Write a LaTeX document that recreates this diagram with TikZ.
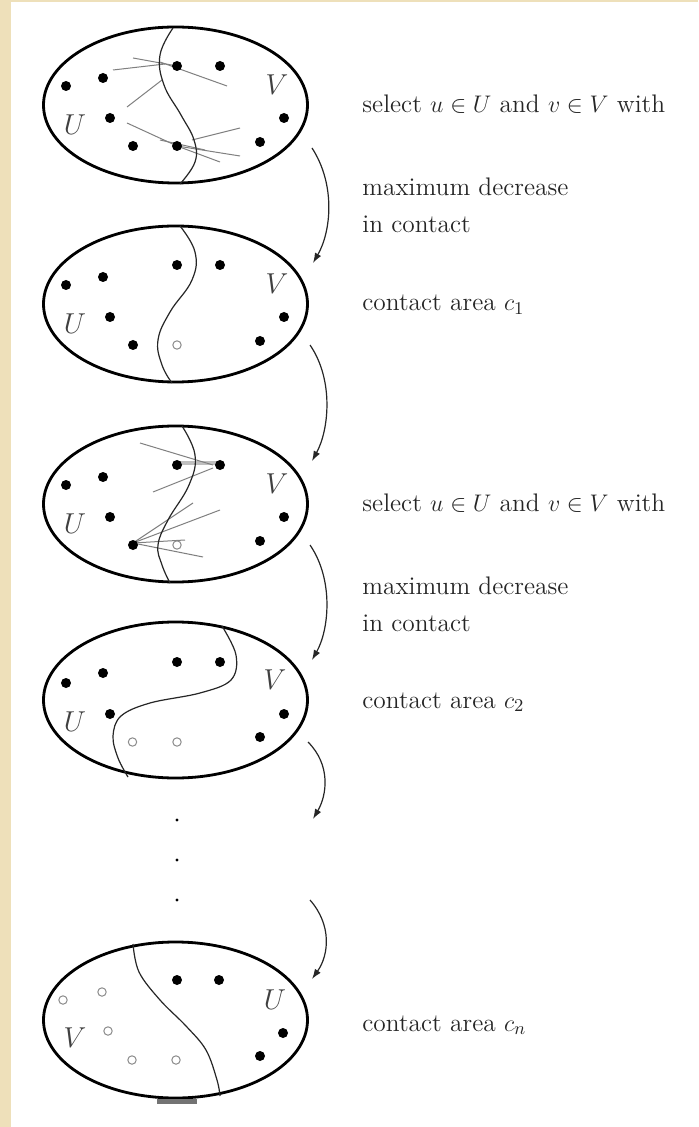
\documentclass[tikz,border=0pt]{standalone}
\usetikzlibrary{arrows.meta,shapes.geometric}
\definecolor{parch}{RGB}{238,224,186}
\begin{document}
\begin{tikzpicture}[x=0.5pt,y=-0.5pt,
  oval/.style={draw, ellipse, line width=1.4pt, minimum width=132pt, minimum height=78pt, inner sep=0pt},
  bdot/.style={fill=black, circle, inner sep=0pt, minimum size=5pt},
  hdot/.style={draw=black!45, circle, inner sep=0pt, minimum size=4.2pt, line width=0.5pt},
  cut/.style={line width=0.6pt, black!85},
  edgeline/.style={black!50, line width=0.5pt},
  setlbl/.style={font=\fontsize{15}{15}\selectfont, text=black!75, inner sep=0pt},
  lbl/.style={anchor=base west, font=\fontsize{12.7}{15}\selectfont, text=black!85, inner sep=0pt},
  flow/.style={line width=0.6pt, black!85, -{Latex[length=5pt,width=3.5pt]}}
]
% background
\fill[parch] (0,0) rectangle (698,1127);
\fill[white] (11,2) rectangle (698,1127);

% ellipses
\node[oval] (e1) at (175.5,105) {};
\node[oval] (e2) at (175.5,304) {};
\node[oval] (e3) at (175.5,504) {};
\node[oval] (e4) at (175.5,700) {};
\node[oval] (e5) at (175.5,1020) {};

% ---- ellipse 1 ----
\draw[edgeline] (133,58) -- (177,66);
\draw[edgeline] (113,70) -- (165,64);
\draw[edgeline] (160,62) -- (227,86);
\draw[edgeline] (127,107) -- (162,80);
\draw[edgeline] (127,123) -- (177,146);
\draw[edgeline] (177,146) -- (240,156);
\draw[edgeline] (192,140) -- (240,128);
\draw[edgeline] (177,146) -- (220,162);
\draw[edgeline] (160,140) -- (205,150);
\draw[cut] plot[smooth, tension=0.7] coordinates {(173,28) (160,55) (164,85) (181,115) (194,140) (195,162) (180,184)};
\begin{scope}[shift={(175.5,105)}]
\foreach \i/\dx/\dy/\s in {1/-109.5/-19/bdot, 2/-72.5/-27/bdot, 3/1.5/-39/bdot, 4/44.5/-39/bdot, 5/-65.5/13/bdot, 6/-42.5/41/bdot, 7/1.5/41/bdot, 8/84.5/37/bdot, 9/108.5/13/bdot}
  \node[\s] (d1-\i) at (\dx,\dy) {};
\node[setlbl] (u1) at (-100.5,20) {$U$};
\node[setlbl] (v1) at (101.5,-20) {$V$};
\end{scope}

% ---- ellipse 2 ----
\draw[cut] plot[smooth, tension=0.7] coordinates {(180,226) (195,252) (192,280) (170,312) (158,340) (162,365) (172,383)};
\begin{scope}[shift={(175.5,304)}]
\foreach \i/\dx/\dy/\s in {1/-109.5/-19/bdot, 2/-72.5/-27/bdot, 3/1.5/-39/bdot, 4/44.5/-39/bdot, 5/-65.5/13/bdot, 6/-42.5/41/bdot, 7/1.5/41/hdot, 8/84.5/37/bdot, 9/108.5/13/bdot}
  \node[\s] (d2-\i) at (\dx,\dy) {};
\node[setlbl] (u2) at (-100.5,20) {$U$};
\node[setlbl] (v2) at (101.5,-20) {$V$};
\end{scope}

% ---- ellipse 3 ----
\draw[black!25, line width=2pt] (177,463) -- (220,463);
\draw[edgeline] (140,443) -- (213,465);
\draw[edgeline] (153,492) -- (213,468);
\draw[edgeline] (133,543) -- (193,503);
\draw[edgeline] (133,543) -- (220,510);
\draw[edgeline] (133,543) -- (203,557);
\draw[edgeline] (133,543) -- (185,540);
\draw[cut] plot[smooth, tension=0.7] coordinates {(182,426) (195,455) (189,485) (168,520) (158,545) (162,565) (170,583)};
\begin{scope}[shift={(175.5,504)}]
\foreach \i/\dx/\dy/\s in {1/-109.5/-19/bdot, 2/-72.5/-27/bdot, 3/1.5/-39/bdot, 4/44.5/-39/bdot, 5/-65.5/13/bdot, 6/-42.5/41/bdot, 7/1.5/41/hdot, 8/84.5/37/bdot, 9/108.5/13/bdot}
  \node[\s] (d3-\i) at (\dx,\dy) {};
\node[setlbl] (u3) at (-100.5,20) {$U$};
\node[setlbl] (v3) at (101.5,-20) {$V$};
\end{scope}

% ---- ellipse 4 ----
\draw[cut] plot[smooth, tension=0.6] coordinates {(222,626) (236,655) (231,680) (200,693) (150,703) (121,716) (113,736) (118,758) (128,777)};
\begin{scope}[shift={(175.5,700)}]
\foreach \i/\dx/\dy/\s in {1/-109.5/-17/bdot, 2/-72.5/-27/bdot, 3/1.5/-38/bdot, 4/44.5/-38/bdot, 5/-65.5/14/bdot, 6/-43/42/hdot, 7/1.5/42/hdot, 8/84.5/37/bdot, 9/108.5/14/bdot}
  \node[\s] (d4-\i) at (\dx,\dy) {};
\node[setlbl] (u4) at (-100.5,22) {$U$};
\node[setlbl] (v4) at (99.5,-20) {$V$};
\end{scope}

% ---- vertical dots ----
\fill[black] (177,820) circle (0.8pt);
\fill[black] (177,860) circle (0.8pt);
\fill[black] (177,900) circle (0.8pt);

% ---- ellipse 5 ----
\draw[cut] plot[smooth, tension=0.6] coordinates {(133,944) (139,972) (160,1000) (186,1026) (206,1050) (217,1080) (220,1096)};
\fill[black!55] (157,1099) rectangle (197,1104);
\begin{scope}[shift={(175.5,1020)}]
\foreach \i/\dx/\dy/\s in {1/-112.5/-20/hdot, 2/-73.5/-28/hdot, 3/1.5/-40/bdot, 4/43.5/-40/bdot, 5/-67.5/11/hdot, 6/-43.5/40/hdot, 7/0.5/40/hdot, 8/84.5/36/bdot, 9/107.5/13/bdot}
  \node[\s] (d5-\i) at (\dx,\dy) {};
\node[setlbl] (v5) at (-100.5,18) {$V$};
\node[setlbl] (u5) at (99.5,-20) {$U$};
\end{scope}

% ---- arrows ----
\coordinate (a1s) at (312,148); \coordinate (a1e) at (313,263);
\coordinate (a2s) at (310,345); \coordinate (a2e) at (312,461);
\coordinate (a3s) at (310,545); \coordinate (a3e) at (312,660);
\coordinate (a4s) at (308,742); \coordinate (a4e) at (313,819);
\coordinate (a5s) at (310,900); \coordinate (a5e) at (312,979);
\draw[flow] (a1s) .. controls (336,185) and (331,232) .. (a1e);
\draw[flow] (a2s) .. controls (334,380) and (329,430) .. (a2e);
\draw[flow] (a3s) .. controls (334,580) and (329,630) .. (a3e);
\draw[flow] (a4s) .. controls (331,765) and (327,795) .. (a4e);
\draw[flow] (a5s) .. controls (332,925) and (329,955) .. (a5e);

% ---- texts ----
\node[lbl] (t1) at (362,113) {select $u\in U$ and $v\in V$ with};
\node[lbl] (t2) at (362,196) {maximum decrease};
\node[lbl] (t3) at (362,233) {in contact};
\node[lbl] (t4) at (362,311) {contact area $c_1$};
\node[lbl] (t5) at (362,511) {select $u\in U$ and $v\in V$ with};
\node[lbl] (t6) at (362,594) {maximum decrease};
\node[lbl] (t7) at (362,631) {in contact};
\node[lbl] (t8) at (362,708) {contact area $c_2$};
\node[lbl] (t9) at (362,1031) {contact area $c_n$};
\end{tikzpicture}
\end{document}
